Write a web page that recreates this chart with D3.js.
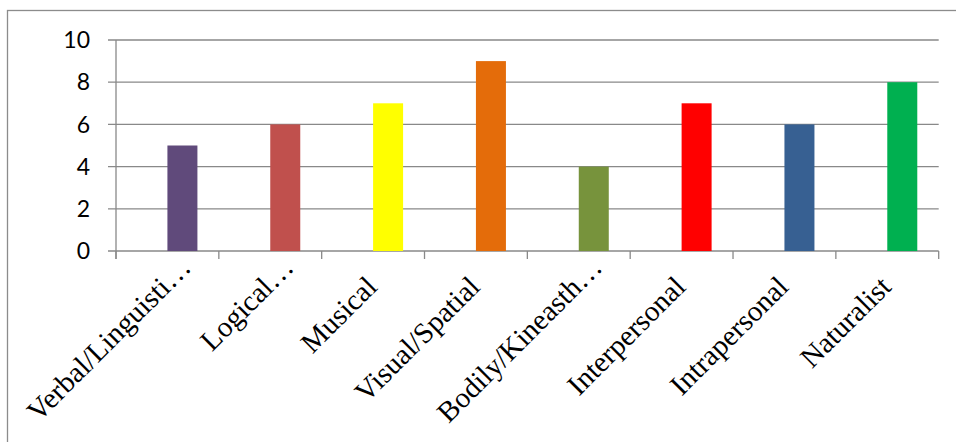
<!DOCTYPE html>
<html>
<head>
<meta charset="utf-8">
<script src="https://cdn.jsdelivr.net/npm/d3@7"></script>
<style>
  html, body { margin: 0; padding: 0; background: #fff; }
  svg { display: block; }
</style>
</head>
<body>
<svg id="chart" width="956" height="442"></svg>
<script>
// Intelligence categories and their scores
const categories = [
  "Verbal/Linguisti\u2026",
  "Logical\u2026",
  "Musical",
  "Visual/Spatial",
  "Bodily/Kineasth\u2026",
  "Interpersonal",
  "Intrapersonal",
  "Naturalist"
];
const scores = [5, 6, 7, 9, 4, 7, 6, 8];
const barColors = ["#604A7B", "#C0504D", "#FFFF00", "#E46C0A", "#77933C", "#FF0000", "#376092", "#00B050"];
const yTicks = [0, 2, 4, 6, 8, 10];

const svg = d3.select("#chart");
const plot = { left: 116, right: 938.7, top: 40, bottom: 251 };
const gridColor = "#898989";

// Outer chart frame (runs past the right and bottom edges)
svg.append("rect")
  .attr("x", 7.5).attr("y", 10.5)
  .attr("width", 1000).attr("height", 500)
  .attr("fill", "none")
  .attr("stroke", "#8c8c8c")
  .attr("stroke-width", 1.3);

const x = d3.scaleBand()
  .domain(categories)
  .range([plot.left, plot.right])
  .paddingInner(0).paddingOuter(0);

const y = d3.scaleLinear()
  .domain([0, 10])
  .range([plot.bottom, plot.top]);

// Horizontal gridlines
svg.append("g")
  .selectAll("line")
  .data(yTicks)
  .join("line")
  .attr("x1", plot.left - 8)
  .attr("x2", plot.right)
  .attr("y1", d => y(d))
  .attr("y2", d => y(d))
  .attr("stroke", gridColor)
  .attr("stroke-width", 1.3);

// Y axis line
svg.append("line")
  .attr("x1", plot.left).attr("x2", plot.left)
  .attr("y1", plot.top).attr("y2", plot.bottom + 8)
  .attr("stroke", gridColor).attr("stroke-width", 1.3);

// Y tick labels
svg.append("g")
  .selectAll("text")
  .data(yTicks)
  .join("text")
  .attr("x", 90)
  .attr("y", d => y(d))
  .attr("dy", "0.36em")
  .attr("text-anchor", "end")
  .attr("font-family", "Lato, 'Open Sans', sans-serif")
  .attr("font-size", 23)
  .attr("fill", "#000")
  .text(d => d);

// Category boundary ticks below the baseline
const boundaries = categories.map(c => x(c)).concat([plot.right]);
svg.append("g")
  .selectAll("line")
  .data(boundaries)
  .join("line")
  .attr("x1", d => d).attr("x2", d => d)
  .attr("y1", plot.bottom).attr("y2", plot.bottom + 8)
  .attr("stroke", gridColor).attr("stroke-width", 1.3);

// Bars: each one starts at the middle of its category slot
const barWidth = 30;
svg.append("g")
  .selectAll("rect")
  .data(categories)
  .join("rect")
  .attr("x", d => x(d) + x.bandwidth() / 2)
  .attr("y", (d, i) => y(scores[i]))
  .attr("width", barWidth)
  .attr("height", (d, i) => y(0) - y(scores[i]))
  .attr("fill", (d, i) => barColors[i]);

// Rotated category labels; shortened names reach a bit further toward the axis
svg.append("g")
  .selectAll("text")
  .data(categories)
  .join("text")
  .attr("transform", d => {
    const c = x(d) + x.bandwidth() / 2;
    const cut = d.endsWith("\u2026");
    const ex = c + (cut ? 25 : 5.5);
    const ey = cut ? 269 : 288.5;
    return `translate(${ex},${ey}) rotate(-45)`;
  })
  .attr("text-anchor", "end")
  .attr("font-family", "'Liberation Serif', 'Times New Roman', serif")
  .attr("font-size", 29)
  .attr("fill", "#000")
  .text(d => d);
</script>
</body>
</html>
